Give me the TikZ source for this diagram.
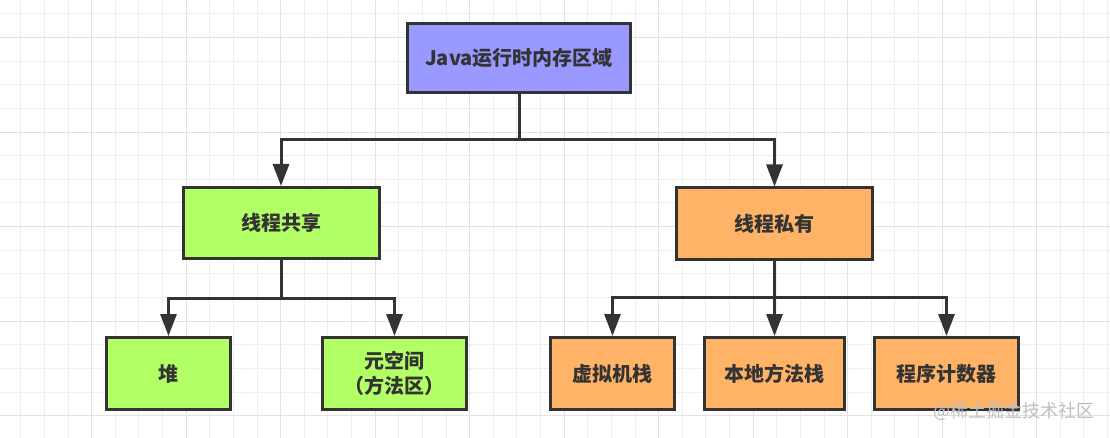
\documentclass[tikz,border=0pt]{standalone}
\usepackage{fontspec}
\setmainfont{Noto Sans CJK SC}
\usetikzlibrary{arrows.meta}
\definecolor{edgegray}{HTML}{333333}
\definecolor{javablue}{HTML}{9999FF}
\definecolor{sharedgreen}{HTML}{B3FF66}
\definecolor{privateorange}{HTML}{FFB366}
\definecolor{minorgrid}{HTML}{EFEFEF}
\definecolor{majorgrid}{HTML}{E2E2E2}
\begin{document}
\begin{tikzpicture}[x=1pt,y=-1pt,
  box/.style={draw=edgegray,line width=3pt,minimum width=#1,minimum height=71pt,
    inner sep=0pt,align=center,text=edgegray,
    font=\fontsize{20}{25}\selectfont\bfseries},
  arr/.style={draw=edgegray,line width=3pt,-{Triangle[length=22pt,width=16pt]}}]
  \useasboundingbox[fill=white] (0,0) rectangle (1110,438);
  \foreach \i in {0,...,46}
    \draw[minorgrid,line width=1pt] ({20.8+23.625*\i},0) -- ({20.8+23.625*\i},438);
  \foreach \j in {0,...,17}
    \draw[minorgrid,line width=1pt] (0,{14+23.625*\j}) -- (1110,{14+23.625*\j});
  \foreach \i in {3,7,...,43}
    \draw[majorgrid,line width=1pt] ({20.8+23.625*\i},0) -- ({20.8+23.625*\i},438);
  \foreach \j in {1,5,9,13,17}
    \draw[majorgrid,line width=1pt] (0,{14+23.625*\j}) -- (1110,{14+23.625*\j});

  \node[box=223pt,minimum height=69pt,fill=javablue] (java) at (519,58) {Java运行时内存区域};
  \node[box=196pt,fill=sharedgreen] (shared) at (281,223) {线程共享};
  \node[box=196pt,fill=privateorange] (private) at (774.5,223.5) {线程私有};
  \node[box=124pt,minimum height=72pt,fill=sharedgreen] (heap) at (168.5,373.5) {堆};
  \node[box=144pt,minimum height=72pt,fill=sharedgreen] (meta) at (394.5,373.5) {元空间\\（方法区）};
  \node[box=124pt,minimum height=72pt,fill=privateorange] (vmstack) at (612.5,373.5) {虚拟机栈};
  \node[box=140pt,minimum height=72pt,fill=privateorange] (native) at (774.5,373.5) {本地方法栈};
  \node[box=144pt,minimum height=72pt,fill=privateorange] (pc) at (946.5,373.5) {程序计数器};

  \foreach \n in {shared,private}
    \draw[arr] (java.south) -- ++(0,46) -| (\n.north);
  \foreach \n in {heap,meta}
    \draw[arr] (shared.south) -- ++(0,38) -| (\n.north);
  \foreach \n in {vmstack,native,pc}
    \draw[arr] (private.south) -- ++(0,37) -| (\n.north);

  \node[font=\fontsize{18}{18}\selectfont,text=black!25] (mark) at (1014,411) {@稀土掘金技术社区};
\end{tikzpicture}
\end{document}
